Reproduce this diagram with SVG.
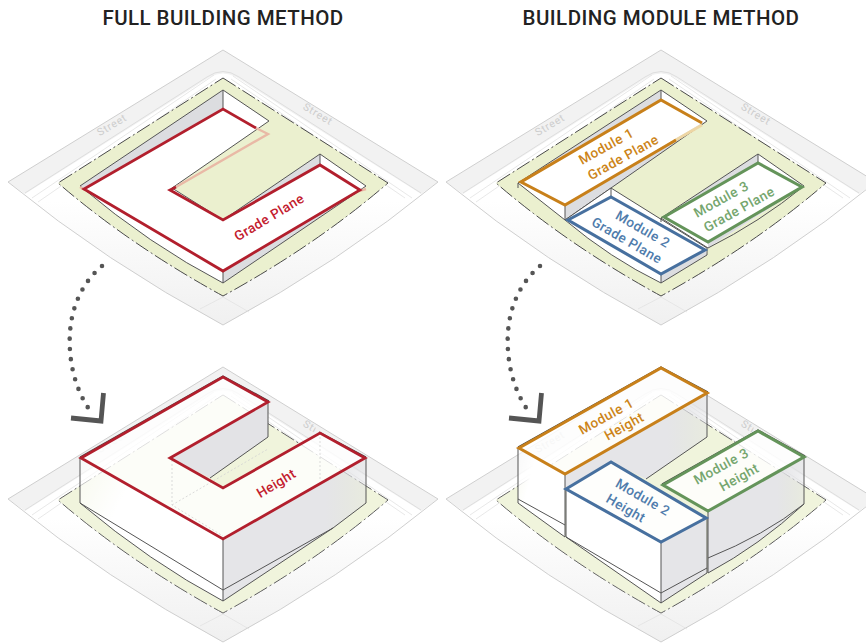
<svg xmlns="http://www.w3.org/2000/svg" width="866" height="644" viewBox="0 0 866 644">
<style>
.title{font:500 20.5px Roboto,"Liberation Sans",sans-serif;fill:#222;text-anchor:middle;letter-spacing:.45px}
.lab{font:500 13.6px Roboto,"Liberation Sans",sans-serif;text-anchor:middle;dominant-baseline:central;letter-spacing:.45px}
.st{font:400 10.5px Roboto,"Liberation Sans",sans-serif;fill:#cdcdcd;text-anchor:middle;dominant-baseline:central;letter-spacing:.8px}
.r{fill:#c3202e}.o{fill:#cc8418}.b{fill:#4f7cac}.g{fill:#75a66e}
.edge{fill:none;stroke:#555;stroke-width:1;stroke-linejoin:round}
.top{fill:none;stroke:#444;stroke-width:1.3;stroke-linejoin:round}
.wht{fill:#fff}.gry{fill:#dcdde0}
.ro{fill:none;stroke:#b21f2d;stroke-width:2.8;stroke-linejoin:miter}
.oo{fill:none;stroke:#c8801a;stroke-width:3.1}
.bo{fill:none;stroke:#47709f;stroke-width:3.1}
.go{fill:none;stroke:#64945a;stroke-width:3.1}
.ghost{fill:none;stroke:#d2d2d2;stroke-width:.8;stroke-dasharray:2 2}
.dots{fill:none;stroke:#555;stroke-width:4.6;stroke-linecap:round;stroke-dasharray:0 10.25}
.chev{fill:none;stroke:#555;stroke-width:4.8;stroke-linejoin:miter}
</style>
<defs>
<linearGradient id="fade" x1="0" y1="0" x2="0" y2="1"><stop offset="0" stop-color="#fff"/><stop offset=".55" stop-color="#fff"/><stop offset="1" stop-color="#f0f0f0"/></linearGradient>
<linearGradient id="wallfade" x1="0" y1="0" x2="1" y2="0"><stop offset="0" stop-color="#e5e5e8"/><stop offset=".72" stop-color="#e5e5e8"/><stop offset="1" stop-color="#dfe0e3" stop-opacity=".45"/></linearGradient>
<linearGradient id="leftfade" x1="0" y1="0" x2="1" y2=".5"><stop offset="0" stop-color="#fff" stop-opacity=".5"/><stop offset=".35" stop-color="#fff" stop-opacity="1"/></linearGradient>
<clipPath id="stclip"><rect x="290" y="405" width="25.500" height="45"/></clipPath>
<g id="ground">
<path d="M223 50L438 182Q340 262 223 325Q106 262 8 182Z" fill="url(#fade)"/>
<path d="M223 50L438 182L421 194L236 77Q223 70 210 77L25 194L8 182Z" fill="#f2f2f2"/>
<path d="M223 50L438 182Q340 262 223 325Q106 262 8 182Z" fill="none" stroke="#cfcfcf" stroke-width="1"/>
<path d="M25 193L207 77Q223 66 239 77L421 193" fill="none" stroke="#dedede" stroke-width="1"/>
<path d="M32 198L214 75M38 202L216 79M233 76L412 198M231 79L405 198" fill="none" stroke="#e2e2e2" stroke-width=".8"/>
<path d="M200 309L223 297L249 312" fill="none" stroke="#e2e2e2" stroke-width=".8"/>
<path d="M223 78L388 183Q316 245 223 296Q130 245 58 183Z" fill="#ebf0cf" stroke="#4a4a4a" stroke-width="1" stroke-dasharray="15 3 2 3"/>
</g>
<g id="arrow">
<path class="dots" d="M102 266C84 281 72 304 70 332C68 360 75 390 91 412"/>
<path class="chev" d="M103.500 393L101 421L71 418"/>
</g>
</defs>

<text class="title" x="223" y="25">FULL BUILDING METHOD</text>
<text class="title" x="661" y="25">BUILDING MODULE METHOD</text>

<g id="full-grade-plane">
<use href="#ground"/>
<text class="st" transform="translate(112 125) rotate(-31)">Street</text>
<text class="st" transform="translate(318 114) rotate(31)">Street</text>
<path class="wht" d="M80 186L223 90L269 121L172 188L223 220L320 154L366 186L223 283Q150 245 80 186Z"/>
<path class="gry" d="M80 186L223 90V109L83 189ZM223 283L366 186L363 189L223 271ZM320 154L223 220L320 165Z"/>
<path class="edge" d="M80 186L223 90L269 121L172 188L223 220L320 154L366 186L223 283Q150 245 80 186ZM223 90V109M223 271V283M320 154V165"/>
<path d="M80 187L85 190M359 191L366 189M256 128L268 134L176 187" fill="none" stroke="#e9b9a6" stroke-width="2.4"/>
<path class="ro" d="M256 128L223 109L84 189L223 271L360 190L320 165L223 220L170 190L176 187"/>
<text class="lab r" transform="translate(269 217) rotate(-31)">Grade Plane</text>
</g>

<g id="module-grade-plane" transform="translate(438 0)">
<use href="#ground"/>
<text class="st" transform="translate(112 125) rotate(-31)">Street</text>
<text class="st" transform="translate(318 114) rotate(31)">Street</text>
</g>
<g id="module-1-plane">
<path class="wht" d="M518 183L661 90L707 121L611 188L565 220Z"/>
<path class="gry" d="M518 183L661 90V100L521 182ZM565 205L702 123L707 121L611 188L565 220Z"/>
<path class="edge" d="M518 183L661 90L707 121L611 188L565 220ZM661 90V100M565 205V220M518 183V188"/>
<path d="M674 141L702 125" fill="none" stroke="#eed6a4" stroke-width="2.8"/>
<path class="oo" d="M676 140L565 205L521 182L661 100L702 123"/>
<text class="lab o" transform="translate(606 146) rotate(-29)">Module 1</text>
<text class="lab o" transform="translate(623 157) rotate(-29)">Grade Plane</text>
</g>
<g id="module-2-plane">
<path class="wht" d="M565 220L611 188L707 248V255L661 283Q610 258 565 220Z"/>
<path class="gry" d="M661 274L705 250L707 255L661 283Z"/>
<path class="edge" d="M565 220L611 188L707 248V255L661 283Q610 258 565 220ZM661 274V283M611 188V197"/>
<path class="bo" d="M611 197L705 250L661 274L568 220Z"/>
<text class="lab b" transform="translate(643 229) rotate(30)">Module 2</text>
<text class="lab b" transform="translate(627 240) rotate(30)">Grade Plane</text>
</g>
<g id="module-3-plane">
<path class="wht" d="M661 218L758 154L804 186L708 248Z"/>
<path class="gry" d="M661 218L758 154V163L664 217ZM708 242L802 187L804 186L708 248Z"/>
<path class="edge" d="M661 218L758 154L804 186Q760 222 708 248ZM758 154V163M661 218V222"/>
<path class="go" d="M664 217L758 163L802 187L708 242Z"/>
<text class="lab g" transform="translate(721 199) rotate(-29)">Module 3</text>
<text class="lab g" transform="translate(739 209) rotate(-29)">Grade Plane</text>
</g>

<g id="full-height">
<use href="#ground" y="317"/>
<path d="M223 395L388 500Q316 562 223 613Q130 562 58 500Z" fill="#fff" fill-opacity=".28"/>
<text class="st" transform="translate(112 442) rotate(-31)" opacity=".5">Street</text>
<g clip-path="url(#stclip)"><text class="st" transform="translate(318 431) rotate(31)">Street</text></g>
<path d="M80 458L223 377L268 402L170 458L223 488L320 433L366 458L223 539Z" fill="#fff" fill-opacity=".8"/>
<path d="M80 458L223 539V601Q150 562 80 503Z" fill="url(#leftfade)"/>
<path d="M170 458L268 402V437L210 478Z" fill="#e3e3e6"/>
<path d="M223 539L366 458V503L333 528L223 601Z" fill="url(#wallfade)"/>
<path d="M172 460V505L223 536M172 505L268 449M320 433V480" class="ghost"/>
<path class="edge" d="M80 458V503Q150 562 223 601L333 528L366 503V458M80 503L223 590L333 528M223 539V601M268 402V437L210 478"/>
<path class="top" d="M80 457L223 376L269 401M319 432L366 457"/>
<path class="ro" d="M81 458L223 377L268 402L170 458L223 488L320 433L365 458L223 539Z"/>
<text class="lab r" transform="translate(276 483) rotate(-31)">Height</text>
</g>

<g id="module-height-ground" transform="translate(438 0)">
<use href="#ground" y="317"/>
<path d="M223 395L388 500Q316 562 223 613Q130 562 58 500Z" fill="#fff" fill-opacity=".28"/>
<text class="st" transform="translate(112 442) rotate(-31)">Street</text>
<g clip-path="url(#stclip)"><text class="st" transform="translate(318 431) rotate(31)">Street</text></g>
</g>
<g id="module-1-height">
<path d="M518 448L661 368L707 393L565 474Z" fill="#fff" fill-opacity=".82"/>
<path d="M518 448L565 474V537L518 503Z" fill="url(#leftfade)"/>
<path d="M565 474L707 393V437L646 479L611 462L565 490Z" fill="url(#wallfade)"/>
<path class="edge" d="M518 448V503L565 537V474M518 499L565 525M707 393V437L646 479"/>
<path class="top" d="M518 447L661 367L708 392"/>
<path class="oo" d="M519 448L661 368L707 393L565 474Z"/>
<text class="lab o" transform="translate(606 416) rotate(-29)">Module 1</text>
<text class="lab o" transform="translate(624 426) rotate(-29)">Height</text>
</g>
<g id="module-3-height">
<path d="M662 485L758 431L804 457L708 511Z" fill="#fff" fill-opacity=".82"/>
<path d="M708 511L804 457V504Q760 545 708 573Z" fill="url(#wallfade)"/>
<path class="edge" d="M804 457V504Q760 545 708 573V511M708 558Q765 535 804 504"/>
<path class="top" d="M662 484L758 430L805 456"/>
<path class="go" d="M663 485L758 431L804 457L708 511Z"/>
<text class="lab g" transform="translate(721 466) rotate(-29)">Module 3</text>
<text class="lab g" transform="translate(739 477) rotate(-29)">Height</text>
</g>
<g id="module-2-height">
<path d="M566 489L611 462L706 518L661 542Z" fill="#fff" fill-opacity=".9"/>
<path class="wht" d="M566 489L661 542V603L566 537Z"/>
<path d="M661 542L706 518L707 573L661 603Z" fill="#e5e5e8"/>
<path class="edge" d="M566 489V537L661 603V542M566 537L661 593L707 568M707 518V573L661 603"/>
<path class="bo" d="M566 489L611 462L706 518L661 542Z"/>
<text class="lab b" transform="translate(643 497) rotate(30)">Module 2</text>
<text class="lab b" transform="translate(626 508) rotate(30)">Height</text>
</g>

<g id="connectors">
<use href="#arrow"/>
<use href="#arrow" x="438"/>
</g>
</svg>
